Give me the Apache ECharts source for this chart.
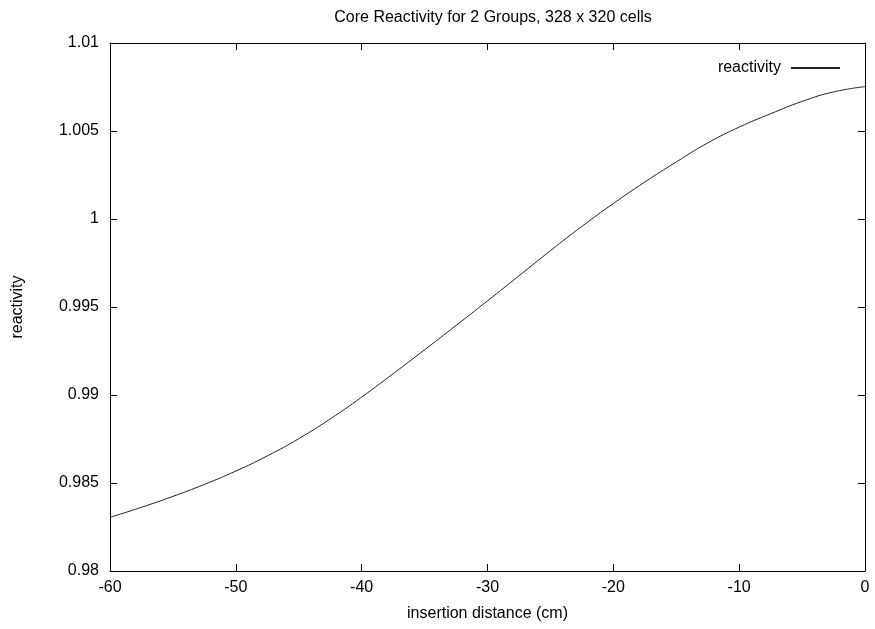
<!DOCTYPE html>
<html>
<head>
<meta charset="utf-8">
<script src="https://cdn.jsdelivr.net/npm/echarts@6/dist/echarts.min.js"></script>
<style>
  html, body { margin: 0; padding: 0; background: #fff; }
  #chart { width: 875px; height: 629px; }
</style>
</head>
<body>
<div id="chart"></div>
<script>
// Insertion distance (cm) and computed core reactivity
const distance = [-60, -57.5, -55, -52.5, -50, -47.5, -45, -42.5, -40, -37.5, -35, -32.5,
                  -30, -27.5, -25, -22.5, -20, -17.5, -15, -12.5, -10, -7.5, -5, -2.5, 0];
const reactivity = [0.98305, 0.98362, 0.98424, 0.98492, 0.98568, 0.98654, 0.98752, 0.98864,
                    0.98988, 0.99121, 0.99257, 0.99395, 0.99535, 0.99677, 0.99820, 0.99958,
                    1.00088, 1.00210, 1.00324, 1.00432, 1.00522, 1.00598, 1.00668, 1.00722, 1.00752];

const xTicks = { min: -60, max: 0, step: 10 };
const yTicks = { min: 0.98, max: 1.01, step: 0.005 };

const font = 'Liberation Sans, Arial, sans-serif';
const chart = echarts.init(document.getElementById('chart'), null, { renderer: 'canvas' });

const tickStyle = { show: true, inside: true, length: 7, lineStyle: { color: '#000', width: 1 } };
const lineStyle = { show: true, onZero: false, lineStyle: { color: '#000', width: 1 } };

chart.setOption({
  animation: false,
  backgroundColor: '#fff',
  title: {
    text: 'Core Reactivity for 2 Groups, 328 x 320 cells',
    left: 488,
    textAlign: 'center',
    top: 5,
    textStyle: { fontFamily: font, fontSize: 16, fontWeight: 'normal', color: '#000' }
  },
  legend: {
    right: 30,
    top: 55,
    align: 'right',
    itemWidth: 49,
    itemHeight: 2,
    itemGap: 6,
    textStyle: { fontFamily: font, fontSize: 16, color: '#000', padding: [0, 5, 0, 0] },
    data: [{ name: 'reactivity', icon: 'rect', itemStyle: { color: '#222' } }]
  },
  grid: {
    left: 110, right: 10, top: 43, bottom: 58,
    containLabel: false,
    outerBoundsMode: 'none'
  },
  xAxis: [
    {
      type: 'value', min: xTicks.min, max: xTicks.max, interval: xTicks.step,
      position: 'bottom',
      name: 'insertion distance (cm)', nameLocation: 'middle', nameGap: 35,
      nameTextStyle: { fontFamily: font, fontSize: 16, color: '#000' },
      axisLine: lineStyle, axisTick: tickStyle,
      axisLabel: { fontFamily: font, fontSize: 16, color: '#000', margin: 9 },
      splitLine: { show: false }
    },
    {
      type: 'value', min: xTicks.min, max: xTicks.max, interval: xTicks.step,
      position: 'top',
      axisLine: lineStyle, axisTick: tickStyle,
      axisLabel: { show: false }, splitLine: { show: false }
    }
  ],
  yAxis: [
    {
      type: 'value', min: yTicks.min, max: yTicks.max, interval: yTicks.step,
      position: 'left',
      name: 'reactivity', nameLocation: 'middle', nameGap: 84, nameRotate: 90,
      nameTextStyle: { fontFamily: font, fontSize: 16, color: '#000' },
      axisLine: lineStyle, axisTick: tickStyle,
      axisLabel: {
        fontFamily: font, fontSize: 16, color: '#000', margin: 11,
        formatter: v => String(parseFloat(v.toFixed(3)))
      },
      splitLine: { show: false }
    },
    {
      type: 'value', min: yTicks.min, max: yTicks.max, interval: yTicks.step,
      position: 'right',
      axisLine: lineStyle, axisTick: tickStyle,
      axisLabel: { show: false }, splitLine: { show: false }
    }
  ],
  series: [
    {
      name: 'reactivity',
      type: 'line',
      xAxisIndex: 0,
      yAxisIndex: 0,
      data: distance.map((d, i) => [d, reactivity[i]]),
      symbol: 'none',
      smooth: true,
      lineStyle: { color: '#222', width: 1 },
      itemStyle: { color: '#222' }
    }
  ]
});
</script>
</body>
</html>
